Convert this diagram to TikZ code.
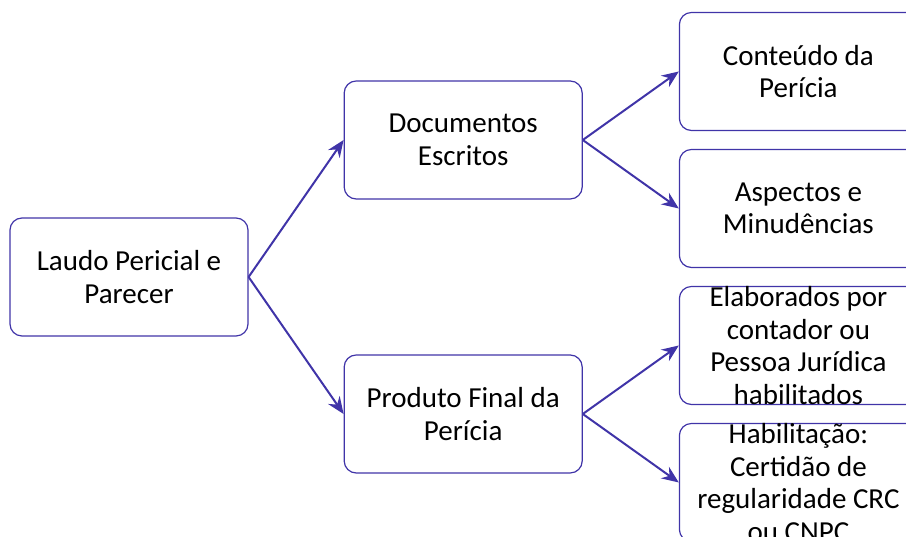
\documentclass[tikz,border=0pt]{standalone}
\usepackage{fontspec}
\setmainfont{Carlito}
\usetikzlibrary{positioning}
\usetikzlibrary{arrows.meta}
\definecolor{boxline}{RGB}{64,52,168}

\begin{document}
\begin{tikzpicture}[every node/.style = {shape=rectangle, draw=boxline, line width=1.2pt, rounded corners=12pt, minimum width=238pt, minimum height=118pt, inner sep=0pt, align=center, font=\fontsize{29}{32.5}\selectfont},
  link/.style = {draw=boxline, line width=2pt, -{Stealth[length=17pt,width=14pt]}},
  node distance=95pt]
  \useasboundingbox (0,0) rectangle (906pt,537pt);
  \node (lp) at (129pt,260pt) {Laudo Pericial e\\Parecer};
  \node (de) [right=of lp, yshift=137pt] {Documentos\\Escritos};
  \node (pf) [right=of lp, yshift=-137pt] {Produto Final da\\Perícia};
  \node (cp) [right=96pt of de, yshift=68.5pt] {Conteúdo da\\Perícia};
  \node (am) [right=96pt of de, yshift=-68.5pt] {Aspectos e\\Minudências};
  \node (ec) [right=96pt of pf, yshift=68.5pt] {Elaborados por\\contador ou\\Pessoa Jurídica\\habilitados};
  \node (hc) [right=96pt of pf, yshift=-68.5pt] {Habilitação:\\Certidão de\\regularidade CRC\\ou CNPC};

  \draw [link] (lp.east) -- (de.west);
  \draw [link] (lp.east) -- (pf.west);
  \draw [link] (de.east) -- (cp.west);
  \draw [link] (de.east) -- (am.west);
  \draw [link] (pf.east) -- (ec.west);
  \draw [link] (pf.east) -- (hc.west);
\end{tikzpicture}
\end{document}
